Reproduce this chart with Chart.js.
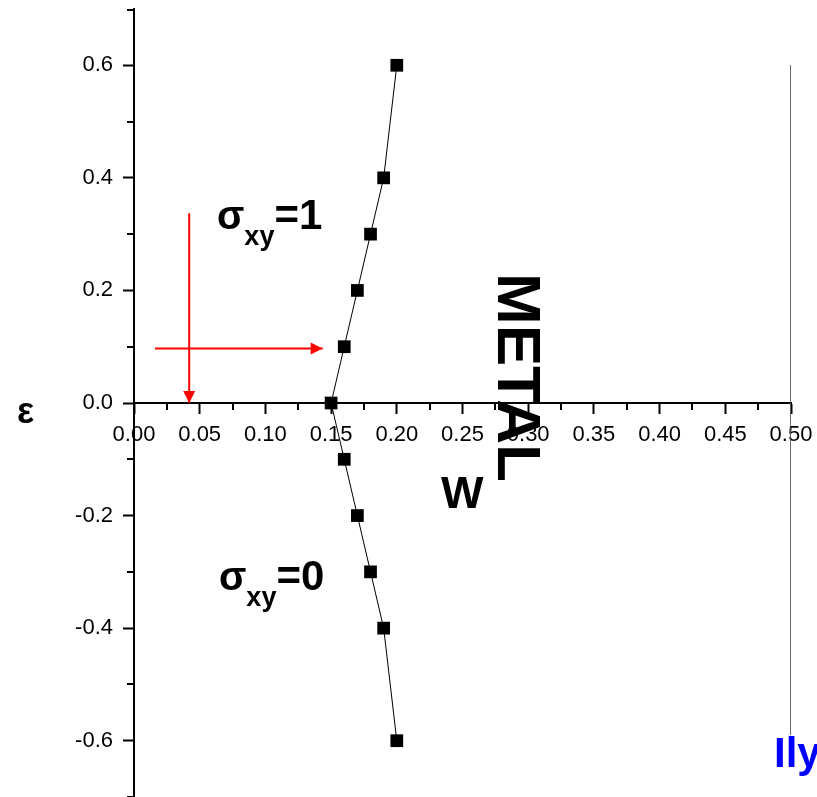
<!DOCTYPE html>
<html>
<head>
<meta charset="utf-8">
<script src="https://cdn.jsdelivr.net/npm/chart.js@4.4.1/dist/chart.umd.min.js"></script>
<style>
html,body{margin:0;padding:0;background:#fff;overflow:hidden}
#wrap{width:817px;height:797px;position:relative}
</style>
</head>
<body>
<div id="wrap"><canvas id="c" width="817" height="797"></canvas></div>
<script>
// ---- data ----
const wValues   = [0.20, 0.19, 0.18, 0.17, 0.16, 0.15, 0.16, 0.17, 0.18, 0.19, 0.20];
const epsValues = [0.6, 0.4, 0.3, 0.2, 0.1, 0.0, -0.1, -0.2, -0.3, -0.4, -0.6];

const xMajorTicks = [0, 0.05, 0.10, 0.15, 0.20, 0.25, 0.30, 0.35, 0.40, 0.45, 0.50];
const xMinorTicks = [0.025, 0.075, 0.125, 0.175, 0.225, 0.275, 0.325, 0.375, 0.425, 0.475];
const yMajorTicks = [-0.6, -0.4, -0.2, 0, 0.2, 0.4, 0.6];
const yMinorTicks = [-0.7, -0.5, -0.3, -0.1, 0.1, 0.3, 0.5, 0.7];

const arrowDownX  = [0.042, 0.042];
const arrowDownY  = [0.337, 0.0];
const arrowRightX = [0.016, 0.1436];
const arrowRightY = [0.097, 0.097];

const boundaryX = [0.5, 0.5];
const boundaryY = [0.6, -0.59];

const FONT = '"Liberation Sans", Arial, Helvetica, sans-serif';
const pts = (xs, ys) => xs.map((x, i) => ({x: x, y: ys[i]}));
const zeroPad = s => { s.paddingLeft = 0; s.paddingRight = 0; s.paddingTop = 0; s.paddingBottom = 0; };

const minorTicksPlugin = {
  id: 'minorTicks',
  afterDraw(chart) {
    const ctx = chart.ctx, xs = chart.scales.x, ys = chart.scales.y;
    const y0 = Math.round(ys.getPixelForValue(0));
    const left = chart.chartArea.left;
    ctx.save();
    ctx.strokeStyle = '#000';
    ctx.lineWidth = 2;
    ctx.beginPath();
    xMinorTicks.forEach(v => {
      const p = Math.round(xs.getPixelForValue(v));
      ctx.moveTo(p, y0); ctx.lineTo(p, y0 + 7);
    });
    yMinorTicks.forEach(v => {
      let p = Math.round(ys.getPixelForValue(v));
      if (p < chart.chartArea.top + 1) p = chart.chartArea.top + 1;
      ctx.moveTo(left - 7, p); ctx.lineTo(left, p);
    });
    ctx.stroke();
    ctx.restore();
  }
};

const arrowPlugin = {
  id: 'arrowHeads',
  afterDatasetsDraw(chart) {
    const ctx = chart.ctx;
    chart.data.datasets.forEach((ds, i) => {
      if (!ds.arrow) return;
      const els = chart.getDatasetMeta(i).data;
      const a = els[els.length - 2], b = els[els.length - 1];
      const ang = Math.atan2(b.y - a.y, b.x - a.x);
      const L = 12, H = 6;
      ctx.save();
      ctx.translate(b.x, b.y);
      ctx.rotate(ang);
      ctx.fillStyle = ds.borderColor;
      ctx.beginPath();
      ctx.moveTo(0, 0);
      ctx.lineTo(-L, -H);
      ctx.lineTo(-L, H);
      ctx.closePath();
      ctx.fill();
      ctx.restore();
    });
  }
};

const textPlugin = {
  id: 'texts',
  afterDraw(chart) {
    const ctx = chart.ctx;
    ctx.save();
    ctx.textBaseline = 'alphabetic';
    ctx.textAlign = 'left';
    ctx.fillStyle = '#000';
    function sigma(x, base, rest) {
      ctx.font = 'bold 40px ' + FONT;
      ctx.fillText('σ', x, base);
      x += ctx.measureText('σ').width;
      ctx.font = 'bold 27px ' + FONT;
      ctx.fillText('xy', x, base + 16);
      x += ctx.measureText('xy').width;
      ctx.font = 'bold 42px ' + FONT;
      ctx.fillText(rest, x, base);
    }
    sigma(217, 229, '=1');
    sigma(219, 590, '=0');

    ctx.font = 'bold 45px ' + FONT;
    ctx.fillText('W', 441, 508);

    ctx.font = 'bold 36px ' + FONT;
    ctx.fillText('ε', 17, 423);

    ctx.save();
    ctx.translate(498, 273);
    ctx.rotate(Math.PI / 2);
    ctx.font = 'bold 62px ' + FONT;
    ctx.fillText('METAL', 0, 0);
    ctx.restore();

    ctx.fillStyle = '#0000ff';
    ctx.font = 'bold 42px ' + FONT;
    ctx.fillText('Ily', 774, 767);
    ctx.restore();
  }
};

new Chart(document.getElementById('c'), {
  type: 'scatter',
  data: {
    datasets: [
      {
        data: pts(wValues, epsValues),
        showLine: true,
        borderColor: '#000',
        backgroundColor: '#000',
        borderWidth: 1,
        pointStyle: 'rect',
        pointRadius: 9,
        pointBorderWidth: 0,
        pointBackgroundColor: '#000'
      },
      {
        data: pts(arrowDownX, arrowDownY),
        showLine: true, arrow: true,
        borderColor: '#ff0000', borderWidth: 2, pointRadius: 0
      },
      {
        data: pts(arrowRightX, arrowRightY),
        showLine: true, arrow: true,
        borderColor: '#ff0000', borderWidth: 2, pointRadius: 0
      },
      {
        data: pts(boundaryX, boundaryY),
        showLine: true,
        borderColor: '#555', borderWidth: 1, pointRadius: 0
      }
    ]
  },
  options: {
    responsive: false,
    animation: false,
    devicePixelRatio: 1,
    layout: { autoPadding: false, padding: { top: 9, bottom: 0, left: 0, right: 26 } },
    plugins: { legend: { display: false }, tooltip: { enabled: false } },
    scales: {
      x: {
        type: 'linear',
        min: 0, max: 0.5,
        position: { y: 0 },
        grid: { drawOnChartArea: false, drawTicks: true, tickLength: 10, tickWidth: 2, tickColor: '#000' },
        border: { display: true, color: '#000', width: 2 },
        ticks: {
          color: '#000', padding: 9, autoSkip: false, maxRotation: 0,
          font: { family: FONT, size: 22 },
          callback: v => Number(v).toFixed(2)
        },
        afterBuildTicks: s => { s.ticks = xMajorTicks.map(v => ({ value: v })); },
        afterFit: s => { zeroPad(s); }
      },
      y: {
        type: 'linear',
        min: -0.7, max: 0.7,
        position: 'left',
        grid: { drawOnChartArea: false, drawTicks: true, tickLength: 11, tickWidth: 2, tickColor: '#000' },
        border: { display: true, color: '#000', width: 2 },
        ticks: {
          color: '#000', padding: 10, autoSkip: false,
          font: { family: FONT, size: 22 },
          callback: v => Number(v).toFixed(1)
        },
        afterBuildTicks: s => { s.ticks = yMajorTicks.map(v => ({ value: v })); },
        afterFit: s => { s.width = 134; zeroPad(s); }
      }
    }
  },
  plugins: [minorTicksPlugin, arrowPlugin, textPlugin]
});
</script>
</body>
</html>
